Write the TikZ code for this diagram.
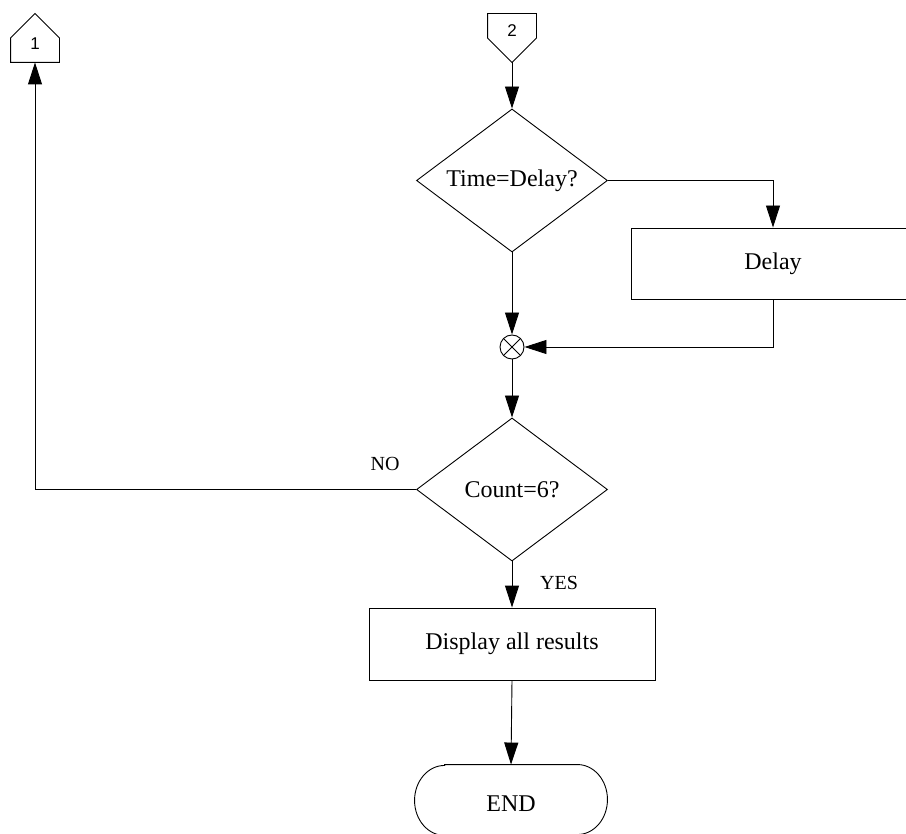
\documentclass[tikz,border=0pt]{standalone}
\usepackage{fontspec}
\setmainfont{Liberation Serif}
\newfontfamily\connfont{Liberation Sans}
\usetikzlibrary{shapes.geometric,arrows.meta,calc}

\begin{document}
\begin{tikzpicture}[
  x=1pt, y=-1pt,
  line width=0.9pt,
  every node/.style={font=\fontsize{24}{28}\selectfont},
  arr/.style={-{Triangle[length=22pt,width=14pt]}},
  procbox/.style={draw, rectangle, inner sep=0pt},
  decision/.style={draw, diamond, inner sep=0pt, shape aspect=1.336,
                   minimum width=191pt, minimum height=143pt},
  junction/.style={draw, circle, minimum size=24pt, inner sep=0pt,
    path picture={\draw (path picture bounding box.north west) -- (path picture bounding box.south east)
                        (path picture bounding box.north east) -- (path picture bounding box.south west);}},
  connbox/.style={minimum width=48pt, minimum height=48pt, inner sep=0pt},
  conntext/.style={font=\connfont\fontsize{17}{20}\selectfont},
  edgelabel/.style={font=\fontsize{20}{24}\selectfont, inner sep=0pt}
]
\useasboundingbox (0,0) rectangle (906,834);

% off-page connectors
\node[connbox] (c1) at (35,38) {};
\draw (c1.south west) -- (c1.south east) -- (c1.east) -- (c1.north) -- (c1.west) -- cycle;
\node[conntext] at ($(c1.center)+(0,6)$) {1};

\node[connbox] (c2) at (512,38) {};
\draw (c2.north west) -- (c2.north east) -- (c2.east) -- (c2.south) -- (c2.west) -- cycle;
\node[conntext] at ($(c2.center)+(0,-7)$) {2};

% flow elements
\node[decision] (d1) at (512,180.5) {Time=Delay?};
\node[procbox, minimum width=284pt, minimum height=71pt] (delay) at (773,263.5) {Delay};
\node[junction] (j) at (512,347) {};
\node[decision] (d2) at (512,489.5) {Count=6?};
\node[procbox, minimum width=286pt, minimum height=72pt] (disp) at (512,644) {Display all results};

% terminator with elliptical ends
\node[minimum width=192pt, minimum height=70pt, inner sep=0pt] (endn) at (511,800) {};
\node at ($(endn.center)+(0,4)$) {END};
\draw ($(endn.north west)+(30,0)$) -- ($(endn.north east)+(-30,0)$)
      arc[start angle=-90, end angle=90, x radius=30, y radius=35]
      -- ($(endn.south west)+(30,0)$)
      arc[start angle=90, end angle=270, x radius=30, y radius=35] -- cycle;

% connectors
\draw[arr] (c2.south) -- (d1.north);
\draw[arr] (d1.east) -| (delay.north);
\draw[arr] (d1.south) -- (j.north);
\draw[arr] (delay.south) |- (j.east);
\draw[arr] (j.south) -- (d2.north);
\draw[arr] (d2.west) -| (c1.south);
\draw[arr] (d2.south) -- (disp.north);
\draw[arr] (disp.south) -- (endn.north);

% branch labels
\node[edgelabel] at ($(d2.west)+(-31,-26)$) {NO};
\node[edgelabel] at ($(d2.south)+(47,22)$) {YES};
\end{tikzpicture}
\end{document}
